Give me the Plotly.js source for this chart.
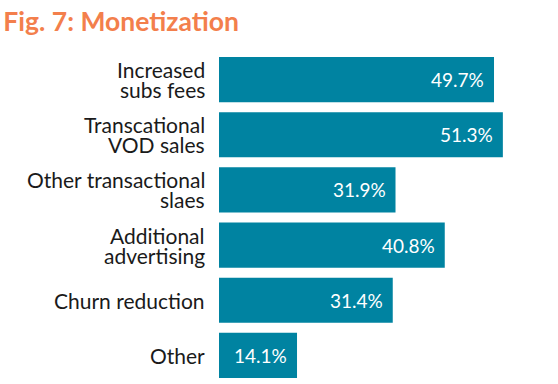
<!DOCTYPE html>
<html><head><meta charset="utf-8">
<script src="https://cdn.plot.ly/plotly-3.0.1.min.js"></script>
<style>html,body{margin:0;padding:0;background:#fff}#chart{width:558px;height:384px}</style>
</head><body><div id="chart"></div>
<script>
const categories = ["Increased subs fees","Transcational VOD sales","Other transactional slaes","Additional advertising","Churn reduction","Other"];
const labelLine1 = ["Increased","Transcational","Other transactional","Additional","Churn reduction","Other"];
const labelLine2 = ["subs fees","VOD sales","slaes","advertising","",""];
const values = [49.7, 51.3, 31.9, 40.8, 31.4, 14.1];
const valueLabels = values.map(v => v.toFixed(1) + "%");

const FONT = "Lato, 'Noto Sans', sans-serif";
const TEAL = "#0083a1";
const ORANGE = "#f37f4c";

const annotations = [];
categories.forEach((c, i) => {
  const two = labelLine2[i] !== "";
  annotations.push({xref:"paper", yref:"y", x:0, y:c, xanchor:"right", yanchor:"middle", xshift:-13,
    yshift: two ? 10 : 0, text: labelLine1[i], showarrow:false, borderpad:0, font:{family:FONT, size:21, color:"#1a1a1a"}});
  if (two) annotations.push({xref:"paper", yref:"y", x:0, y:c, xanchor:"right", yanchor:"middle", xshift:-13,
    yshift:-10, text: labelLine2[i], showarrow:false, borderpad:0, font:{family:FONT, size:21, color:"#1a1a1a"}});
  annotations.push({xref:"x", yref:"y", x:values[i], y:c, xanchor:"right", yanchor:"middle", xshift:-8,
    text: valueLabels[i], showarrow:false, font:{family:FONT, size:19, color:"#ffffff"}});
});

const data = [{
  type:"bar", orientation:"h", y:categories, x:values,
  marker:{color:TEAL}, hoverinfo:"none", textposition:"none"
}];

const layout = {
  width:558, height:384,
  margin:{l:219, r:7, t:52, b:1},
  paper_bgcolor:"#fff", plot_bgcolor:"#fff",
  bargap:0.18, showlegend:false,
  title:{text:"<b>Fig. 7: Monetization</b>", font:{family:FONT, size:26.5, color:ORANGE},
    xref:"container", yref:"container", x:0.006, xanchor:"left", y:0.943, yanchor:"middle"},
  xaxis:{range:[0,60], showgrid:false, zeroline:false, showticklabels:false, ticks:"", showline:false},
  yaxis:{autorange:"reversed", showgrid:false, zeroline:false, showticklabels:false, ticks:"", showline:false},
  annotations: annotations
};
Plotly.newPlot("chart", data, layout, {displayModeBar:false, staticPlot:true});
</script></body></html>
